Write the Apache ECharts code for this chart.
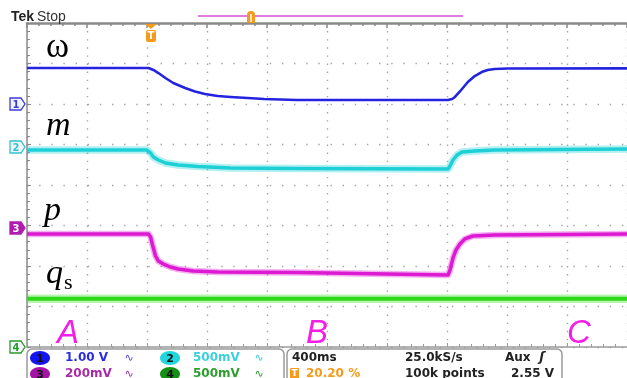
<!DOCTYPE html>
<html>
<head>
<meta charset="utf-8">
<script src="https://cdn.jsdelivr.net/npm/echarts@6/dist/echarts.min.js"></script>
<style>html,body{margin:0;padding:0;background:#fff;}#c{width:627px;height:378px;}</style>
</head>
<body>
<div id="c"></div>
<script>
// time in ms (10 divisions x 400 ms), values in screen divisions (0..8)
const omegaT = [0, 810, 843, 876, 923, 975, 1054, 1120, 1186, 1272, 1357, 1470, 1581, 1799, 2807, 2834, 2853, 2886, 2939, 2985, 3031, 3071, 3117, 3203, 4000];
const omegaV = [6.889, 6.889, 6.840, 6.765, 6.642, 6.519, 6.395, 6.309, 6.247, 6.198, 6.173, 6.148, 6.123, 6.099, 6.099, 6.123, 6.173, 6.309, 6.543, 6.691, 6.790, 6.840, 6.864, 6.877, 6.880];
const mT = [0, 797, 824, 843, 876, 923, 1008, 1140, 1357, 1799, 2807, 2820, 2840, 2867, 2900, 2985, 3117, 4000];
const mV = [4.864, 4.864, 4.790, 4.691, 4.617, 4.543, 4.494, 4.457, 4.420, 4.407, 4.395, 4.469, 4.617, 4.741, 4.815, 4.840, 4.864, 4.889];
const pT = [0, 810, 824, 837, 857, 876, 909, 956, 1008, 1107, 1272, 1799, 2807, 2820, 2840, 2860, 2886, 2919, 2972, 3117, 4000];
const pV = [2.790, 2.790, 2.716, 2.519, 2.247, 2.123, 2.049, 1.975, 1.926, 1.877, 1.852, 1.840, 1.778, 1.901, 2.198, 2.395, 2.543, 2.667, 2.741, 2.765, 2.790];
const qsT = [0, 1000, 2000, 3000, 4000];
const qsV = [1.19, 1.19, 1.19, 1.19, 1.19];
const traceNames = ['ω', 'm', 'p', 'qs'];
const bottomLabels = ['A', 'B', 'C'];

const pairs = (t, v) => t.map((x, i) => [x, v[i]]);
const chart = echarts.init(document.getElementById('c'), null, {renderer: 'canvas'});

const GL = 27, GT = 23, GW = 607, GH = 324;
const dotX = {show: true, lineStyle: {color: '#a4a4a4', width: 1.4, type: [1.4, 6.7]}};
const dotY = {show: true, lineStyle: {color: '#a4a4a4', width: 1.4, type: [1.4, 10.74]}};

function txt(text, x, y, font, fill, align, va) {
  return {type: 'text', z: 100, style: {text: text, x: x, y: y, font: font, fill: fill, align: align || 'left', verticalAlign: va || 'middle'}};
}
function chanMarker(n, cy, color, filled) {
  return [
    {type: 'polygon', z: 100, shape: {points: [[10, cy - 6], [21, cy - 6], [25, cy], [21, cy + 6], [10, cy + 6]]},
     style: {fill: filled ? color : '#f4f4ff', stroke: color, lineWidth: 1.3}},
    txt(String(n), 16, cy + 1, 'bold 10px "DejaVu Sans"', filled ? '#ffffff' : color, 'center', 'middle')
  ];
}
function ell(cx, cy, fill, n) {
  return [
    {type: 'ellipse', z: 100, shape: {cx: cx, cy: cy, rx: 10, ry: 7}, style: {fill: fill}},
    txt(n, cx, cy + 1, 'bold 11px "DejaVu Sans"', '#111', 'center', 'middle')
  ];
}
const F = 'bold 12px "DejaVu Sans"';

const graphics = [].concat(
  [txt('Tek', 11, 17, 'bold 14px "Liberation Sans"', '#222'),
   txt('Stop', 37, 17, '14px "Liberation Sans"', '#333'),
   {type: 'line', z: 100, shape: {x1: 198, y1: 16, x2: 463, y2: 16}, style: {stroke: '#e07ce0', lineWidth: 2}},
   {type: 'rect', z: 101, shape: {x: 247, y: 11, width: 8, height: 12, r: [4, 4, 0, 0]}, style: {fill: '#f59a1c'}},
   {type: 'line', z: 102, shape: {x1: 251, y1: 14, x2: 251, y2: 22}, style: {stroke: '#fff', lineWidth: 1.5}},
   {type: 'polygon', z: 100, shape: {points: [[145, 24], [157, 24], [151, 29]]}, style: {fill: '#f59a1c'}},
   {type: 'rect', z: 100, shape: {x: 146, y: 30, width: 10, height: 12, r: 2}, style: {fill: '#f59a1c'}},
   txt('T', 151, 36.5, 'bold 10px "DejaVu Sans"', '#fff', 'center', 'middle'),
   txt(traceNames[0], 46, 48, '35px "Liberation Serif"', '#000'),
   txt(traceNames[1], 46, 126, 'italic 34px "Liberation Serif"', '#000'),
   txt(traceNames[2], 44, 211, 'italic 34px "Liberation Serif"', '#000'),
   txt(traceNames[3].charAt(0), 46, 274, 'italic 34px "Liberation Serif"', '#000'),
   txt(traceNames[3].charAt(1), 64, 283, '22px "Liberation Serif"', '#000'),
   txt(bottomLabels[0], 57, 334, 'italic 33px "Liberation Sans"', '#f41ee8'),
   txt(bottomLabels[1], 306, 334, 'italic 33px "Liberation Sans"', '#f41ee8'),
   txt(bottomLabels[2], 567, 334, 'italic 33px "Liberation Sans"', '#f41ee8')],
  chanMarker(1, 104, '#3b3bd8', false),
  chanMarker(2, 147, '#2cc4cc', false),
  chanMarker(3, 228, '#b01cb0', true),
  chanMarker(4, 347, '#2a9a2a', false),
  [{type: 'rect', z: 99, shape: {x: 27, y: 349, width: 257, height: 40, r: 5}, style: {fill: '#fff', stroke: '#9a9a9a', lineWidth: 1.5}},
   {type: 'rect', z: 99, shape: {x: 287, y: 349, width: 275, height: 40, r: 5}, style: {fill: '#fff', stroke: '#9a9a9a', lineWidth: 1.5}}],
  ell(40, 358, '#1414ee', '1'), ell(170, 358, '#22d6de', '2'),
  ell(40, 374, '#a414a4', '3'), ell(170, 374, '#149014', '4'),
  [txt('1.00 V', 65, 358, F, '#2b2be6', 'left', 'middle'),
   txt('∿', 129, 358, '11px "DejaVu Sans"', '#4d4de6', 'center', 'middle'),
   txt('500mV', 193, 358, F, '#3cd0dc', 'left', 'middle'),
   txt('∿', 259, 358, '11px "DejaVu Sans"', '#3cd0dc', 'center', 'middle'),
   txt('200mV', 65, 374, F, '#a82aa8', 'left', 'middle'),
   txt('∿', 129, 374, '11px "DejaVu Sans"', '#a82aa8', 'center', 'middle'),
   txt('500mV', 193, 374, F, '#2e9e2e', 'left', 'middle'),
   txt('∿', 259, 374, '11px "DejaVu Sans"', '#2e9e2e', 'center', 'middle'),
   txt('400ms', 292, 358, F, '#222', 'left', 'middle'),
   txt('25.0kS/s', 405, 358, F, '#222', 'left', 'middle'),
   txt('Aux', 505, 358, F, '#222', 'left', 'middle'),
   txt('ʃ', 542, 358, 'bold italic 13px "DejaVu Sans"', '#222', 'center', 'middle'),
   {type: 'rect', z: 100, shape: {x: 290, y: 368, width: 9, height: 12, r: 1}, style: {fill: '#f59a1c'}},
   txt('T', 294.5, 374, 'bold 9px "DejaVu Sans"', '#fff', 'center', 'middle'),
   txt('20.20 %', 306, 374, F, '#f59a1c', 'left', 'middle'),
   txt('100k points', 405, 374, F, '#222', 'left', 'middle'),
   txt('2.55 V', 511, 374, F, '#222', 'left', 'middle')]
);

function lineSeries(t, v, color, w, op) {
  return {type: 'line', data: pairs(t, v), showSymbol: false, smooth: false,
          lineStyle: {color: color, width: w, opacity: op == null ? 1 : op, join: 'round'},
          itemStyle: {color: color}, xAxisIndex: 0, yAxisIndex: 0, z: 10};
}

chart.setOption({
  animation: false,
  backgroundColor: '#ffffff',
  grid: {left: GL, top: GT, width: GW, height: GH, containLabel: false},
  xAxis: [
    {type: 'value', min: 0, max: 4000, interval: 400, position: 'top',
     axisLine: {show: true, onZero: false, lineStyle: {color: '#8a8a8a', width: 2.5}},
     axisTick: {show: true, inside: true, length: 5, lineStyle: {color: '#8a8a8a', width: 1.5}},
     minorTick: {show: true, splitNumber: 5, length: 3, lineStyle: {color: '#8a8a8a', width: 1.5}},
     axisLabel: {show: false}, splitLine: dotX},
    {type: 'value', min: 0, max: 4000, interval: 400, position: 'bottom',
     axisLine: {show: true, onZero: false, lineStyle: {color: '#9a9a9a', width: 1.5}},
     axisTick: {show: true, inside: true, length: 4, lineStyle: {color: '#9a9a9a'}},
     minorTick: {show: true, splitNumber: 5, length: 3, lineStyle: {color: '#9a9a9a'}},
     axisLabel: {show: false}, splitLine: {show: false}}
  ],
  yAxis: [
    {type: 'value', min: 0, max: 8, interval: 1, position: 'left',
     axisLine: {show: true, onZero: false, lineStyle: {color: '#8a8a8a', width: 1.5}},
     axisTick: {show: true, inside: true, length: 4, lineStyle: {color: '#8a8a8a'}},
     minorTick: {show: true, splitNumber: 5, length: 3, lineStyle: {color: '#8a8a8a'}},
     axisLabel: {show: false}, splitLine: dotY}
  ],
  series: [
    lineSeries(qsT, qsV, '#33dd1c', 8.5, 0.35),
    lineSeries(qsT, qsV, '#2fd818', 4),
    lineSeries(pT, pV, '#e01ed6', 6.5, 0.35),
    lineSeries(pT, pV, '#dc1ad2', 3.5),
    lineSeries(mT, mV, '#22d3da', 7.5, 0.35),
    lineSeries(mT, mV, '#1ecfd6', 3.5),
    lineSeries(omegaT, omegaV, '#2424e0', 2.6)
  ],
  graphic: graphics
});
</script>
</body>
</html>
